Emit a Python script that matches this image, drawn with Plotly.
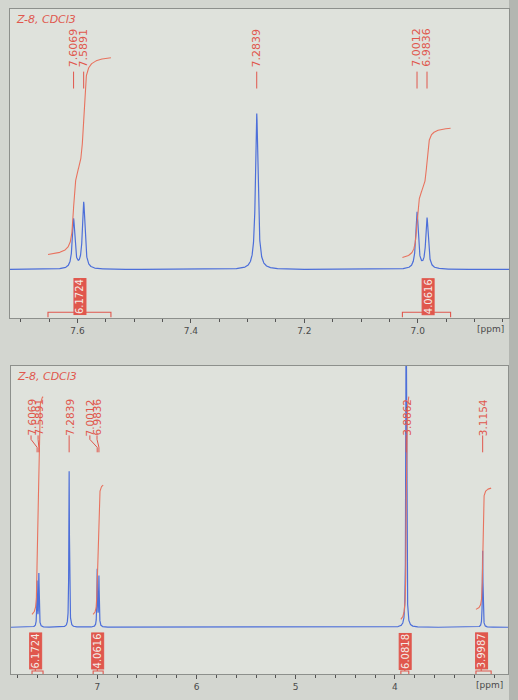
import numpy as np
import plotly.graph_objects as go

# ---------------- data ----------------
title_text = "Z-8, CDCl3"

# expanded aromatic region (top panel)
top_peaks_ppm = [7.6069, 7.5891, 7.2839, 7.0012, 6.9836]
top_peaks_height = [50, 67, 157, 57, 51]
top_peak_labels = ["7.6069", "7.5891", "7.2839", "7.0012", "6.9836"]
top_int_from = [7.652, 7.027]
top_int_to = [7.541, 6.942]
top_int_values = ["6.1724", "4.0616"]
top_int_label_pos = [7.596, 6.982]
top_int_start = [15, 12]
top_int_end = [213, 142]
top_tick_vals = [7.6, 7.4, 7.2, 7.0]
top_tick_text = ["7.6", "7.4", "7.2", "7.0"]

# full spectrum (bottom panel)
bot_peaks_ppm = [7.6069, 7.5891, 7.2839, 7.0012, 6.9836, 3.8862, 3.1154]
bot_peaks_height = [45, 53, 157, 57, 50, 420, 77]
bot_peak_labels = ["7.6069", "7.5891", "7.2839", "7.0012", "6.9836", "3.8862", "3.1154"]
bot_label_pos = [7.668, 7.597, 7.2839, 7.075, 7.003, 3.8862, 3.1154]
bot_int_from = [7.658, 7.042, 3.94, 3.183]
bot_int_to = [7.547, 6.941, 3.86, 3.03]
bot_int_values = ["6.1724", "4.0616", "6.0818", "3.9987"]
bot_int_label_pos = [7.625, 7.0, 3.90, 3.13]
bot_int_start = [13, 13, 8, 18]
bot_int_end = [232, 143, 232, 140]
bot_tick_vals = [7, 6, 5, 4]
bot_tick_text = ["7", "6", "5", "4"]

# ---------------- styling ----------------
BLUE = "#4d6fd9"
RED = "#e0574d"
RED_INT = "#e8735f"
FRAME = "#8d908c"
PAPER = "#d3d6d0"
PLOT = "#dfe2dc"
HW_TOP = 0.0026
HW_BOT = 0.0035

TOP_RANGE = [7.719, 6.839]
BOT_RANGE = [7.87, 2.86]


def spectrum(x, ppm, h, hw):
    y = np.zeros_like(x)
    for p, a in zip(ppm, h):
        y += a / (1.0 + ((x - p) / hw) ** 2)
    return y


def integral(a, b, ppm, h, s, e, hw):
    xs = np.linspace(a, b, 500)
    ys = spectrum(xs, ppm, h, hw)
    c = np.cumsum(ys)
    c = (c - c[0]) / (c[-1] - c[0])
    return xs, s + (e - s) * c


fig = go.Figure()

# top spectrum
xt = np.linspace(TOP_RANGE[0], TOP_RANGE[1], 5000)
fig.add_trace(go.Scatter(x=xt, y=spectrum(xt, top_peaks_ppm, top_peaks_height, HW_TOP),
                         mode="lines", line=dict(color=BLUE, width=1.2),
                         xaxis="x", yaxis="y", hoverinfo="skip"))
# bottom spectrum
xb = np.linspace(BOT_RANGE[0], BOT_RANGE[1], 8000)
dense = np.concatenate([np.linspace(p - 0.06, p + 0.06, 600) for p in bot_peaks_ppm])
xb = np.sort(np.unique(np.concatenate([xb, dense])))[::-1]
fig.add_trace(go.Scatter(x=xb, y=spectrum(xb, bot_peaks_ppm, bot_peaks_height, HW_BOT),
                         mode="lines", line=dict(color=BLUE, width=1.2),
                         xaxis="x2", yaxis="y2", hoverinfo="skip"))

# integral curves
for a, b, s, e in zip(top_int_from, top_int_to, top_int_start, top_int_end):
    xs, ys = integral(a, b, top_peaks_ppm, top_peaks_height, s, e, HW_TOP)
    fig.add_trace(go.Scatter(x=xs, y=ys, mode="lines", line=dict(color=RED_INT, width=1.1),
                             xaxis="x", yaxis="y", hoverinfo="skip"))
for a, b, s, e in zip(bot_int_from, bot_int_to, bot_int_start, bot_int_end):
    xs, ys = integral(a, b, bot_peaks_ppm, bot_peaks_height, s, e, HW_BOT)
    fig.add_trace(go.Scatter(x=xs, y=ys, mode="lines", line=dict(color=RED_INT, width=1.1),
                             xaxis="x2", yaxis="y2", hoverinfo="skip"))


# integral brackets
def bracket(a, b, mid, ybar, yend, ybump, xa, ya):
    fig.add_trace(go.Scatter(x=[a, a, mid, mid, mid, b, b], y=[yend, ybar, ybar, ybump, ybar, ybar, yend],
                             mode="lines", line=dict(color=RED, width=1.1),
                             xaxis=xa, yaxis=ya, hoverinfo="skip"))


for a, b, m in zip(top_int_from, top_int_to, top_int_label_pos):
    bracket(a, b, m, -43, -48, -40, "x", "y")
for a, b, m in zip(bot_int_from, bot_int_to, bot_int_label_pos):
    bracket(a, b, m, -44, -47, -41, "x2", "y2")

annotations = []
for v, m in zip(top_int_values, top_int_label_pos):
    annotations.append(dict(x=m, y=-27, xref="x", yref="y", text=v, textangle=-90, showarrow=False,
                            bgcolor=RED, bordercolor=RED, borderpad=0,
                            font=dict(family="Liberation Sans Narrow, DejaVu Sans", size=10, color="#f4ebe6")))
for v, m in zip(bot_int_values, bot_int_label_pos):
    annotations.append(dict(x=m, y=-24, xref="x2", yref="y2", text=v, textangle=-90, showarrow=False,
                            bgcolor=RED, bordercolor=RED, borderpad=0,
                            font=dict(family="Liberation Sans Narrow, DejaVu Sans", size=10, color="#f4ebe6")))

# peak labels top
for p, t in zip(top_peaks_ppm, top_peak_labels):
    annotations.append(dict(x=p, y=223, xref="x", yref="y", text=t, textangle=-90, showarrow=False,
                            font=dict(family="Liberation Sans Narrow, DejaVu Sans", size=11, color=RED)))
    fig.add_trace(go.Scatter(x=[p, p], y=[199, 182], mode="lines", line=dict(color=RED, width=1),
                             xaxis="x", yaxis="y", hoverinfo="skip"))

# peak labels bottom
for p, lp, t in zip(bot_peaks_ppm, bot_label_pos, bot_peak_labels):
    annotations.append(dict(x=lp, y=211, xref="x2", yref="y2", text=t, textangle=-90, showarrow=False,
                            font=dict(family="Liberation Sans Narrow, DejaVu Sans", size=10.5, color=RED)))
    fig.add_trace(go.Scatter(x=[lp, lp, p, p], y=[193, 189, 181, 176], mode="lines",
                             line=dict(color=RED, width=1),
                             xaxis="x2", yaxis="y2", hoverinfo="skip"))

# titles
for ya in ["y", "y2"]:
    xa = "x" if ya == "y" else "x2"
    annotations.append(dict(x=0.008, y=1, xref=xa + " domain", yref=ya + " domain", xanchor="left",
                            yanchor="top", yshift=-2, text=title_text, showarrow=False,
                            font=dict(family="DejaVu Sans", size=11, color=RED, style="italic")))
    annotations.append(dict(x=1, y=0, xref=xa + " domain", yref=ya + " domain", xanchor="right",
                            yanchor="top", yshift=-4, xshift=-3, text="[ppm]", showarrow=False,
                            font=dict(family="DejaVu Sans", size=9, color="#4a4a4a")))

axis_common = dict(showline=True, mirror=True, linecolor=FRAME, linewidth=1, showgrid=False,
                   zeroline=False, ticks="outside", ticklen=4, tickcolor="#555",
                   tickfont=dict(family="DejaVu Sans", size=9, color="#4a4a4a"))

fig.update_layout(
    width=518, height=700,
    margin=dict(l=10, r=9, t=8, b=23),
    paper_bgcolor=PAPER, plot_bgcolor=PLOT,
    showlegend=False,
    xaxis=dict(domain=[0, 1], range=TOP_RANGE, anchor="y", tickvals=top_tick_vals,
               ticktext=top_tick_text,
               minor=dict(dtick=0.05, tick0=7.0, ticks="outside", ticklen=3, tickcolor="#555"),
               **axis_common),
    yaxis=dict(domain=[0.5351, 1], range=[-49, 262], anchor="x", showticklabels=False,
               showline=True, mirror=True, linecolor=FRAME, showgrid=False, zeroline=False),
    xaxis2=dict(domain=[1 / 499, 498 / 499], range=BOT_RANGE, anchor="y2", tickvals=bot_tick_vals,
                ticktext=bot_tick_text,
                minor=dict(dtick=0.2, tick0=4.0, ticks="outside", ticklen=3, tickcolor="#555"),
                **axis_common),
    yaxis2=dict(domain=[0, 0.4634], range=[-47, 263], anchor="x2", showticklabels=False,
                showline=True, mirror=True, linecolor=FRAME, showgrid=False, zeroline=False),
    annotations=annotations,
    shapes=[dict(type="rect", xref="paper", yref="paper", x0=1.0, x1=1.03, y0=-0.05, y1=1.02,
                 fillcolor="#b3b6b1", line=dict(width=0), layer="below")],
)

fig.write_html("out.html")
